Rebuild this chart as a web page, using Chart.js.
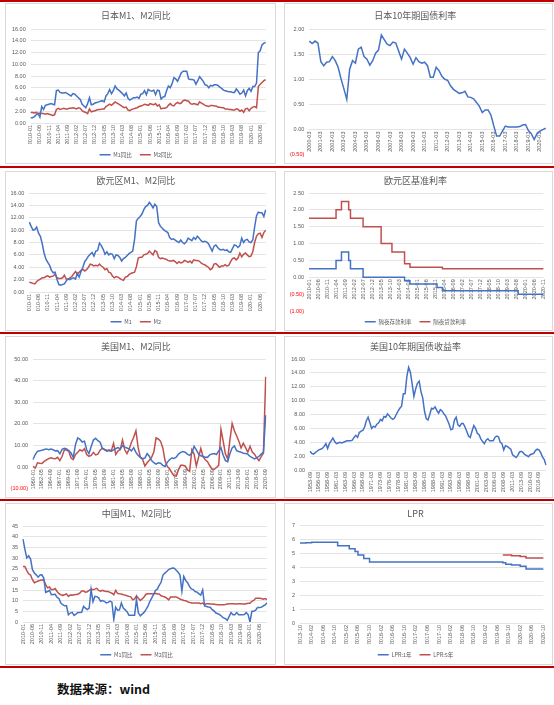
<!DOCTYPE html>
<html>
<head>
<meta charset="utf-8">
<script src="https://cdn.jsdelivr.net/npm/chart.js@4.4.0/dist/chart.umd.min.js"></script>
<style>
  body { margin: 0; width: 554px; height: 705px; background: #fff; position: relative; overflow: hidden; }
  .rule { position: absolute; left: 0; width: 554px; height: 2px; background: #c00000; }
  .panel { position: absolute; border: 1px solid #d9d9d9; background: #fff; }
  #source { position: absolute; left: 57px; top: 680px; line-height: 18px; font-size: 12.5px; font-weight: bold; color: #111;
            font-family: "Noto Sans CJK SC", sans-serif; }
</style>
</head>
<body>
<div class="rule" style="top:0"></div>
<div class="rule" style="top:166px"></div>
<div class="rule" style="top:332px"></div>
<div class="rule" style="top:499px"></div>
<div class="rule" style="top:666px"></div>

<div class="panel" style="left:5px;top:3px;width:269px;height:159px"><canvas id="jpMoney"></canvas></div>
<div class="panel" style="left:284px;top:3px;width:267px;height:159px"><canvas id="jpBond"></canvas></div>
<div class="panel" style="left:5px;top:171px;width:269px;height:158px"><canvas id="euMoney"></canvas></div>
<div class="panel" style="left:284px;top:171px;width:267px;height:158px"><canvas id="euRate"></canvas></div>
<div class="panel" style="left:5px;top:336px;width:269px;height:160px"><canvas id="usMoney"></canvas></div>
<div class="panel" style="left:284px;top:336px;width:267px;height:160px"><canvas id="usBond"></canvas></div>
<div class="panel" style="left:5px;top:503px;width:269px;height:160px"><canvas id="cnMoney"></canvas></div>
<div class="panel" style="left:284px;top:503px;width:267px;height:160px"><canvas id="lpr"></canvas></div>

<div id="source">数据来源：wind</div>

<script>
// month categories, e.g. monthSeq('2010-01', 129, 1)
function monthSeq(start, count, step) {
    let [y, m] = start.split('-').map(Number);
    const out = [];
    for (let i = 0; i < count; i++) {
        out.push(y + '-' + String(m).padStart(2, '0'));
        m += step;
        while (m > 12) { m -= 12; y++; }
    }
    return out;
}

// ---- Japan M1 / M2 yoy, monthly 2010-01 .. 2020-09
const jpMonths = monthSeq('2010-01', 129, 1);
const jpM1 = [
    0.9, 0.9, 1.1, 1.4, 1.6, 1.0, 2.8, 2.3, 3.0, 3.1,
    3.2, 3.3, 3.2, 3.1, 5.5, 5.6, 5.2, 5.1, 5.1, 5.2,
    5.0, 4.8, 4.6, 5.0, 4.9, 4.6, 4.3, 4.0, 3.2, 2.9,
    2.6, 3.3, 4.3, 3.1, 3.2, 3.4, 3.5, 3.6, 3.7, 3.8,
    3.6, 4.6, 5.0, 5.7, 5.0, 5.5, 6.3, 5.8, 5.6, 5.3,
    5.0, 4.6, 5.1, 4.2, 3.9, 4.1, 4.3, 4.3, 4.4, 4.2,
    4.9, 5.0, 5.5, 4.8, 5.7, 5.5, 5.4, 5.6, 4.8, 5.6,
    5.5, 4.1, 4.4, 4.5, 5.5, 6.3, 6.0, 6.7, 7.7, 7.5,
    7.1, 7.8, 8.5, 8.8, 8.8, 8.8, 7.5, 7.4, 7.4, 7.3,
    6.6, 7.2, 7.9, 7.5, 7.1, 6.5, 6.4, 6.0, 6.4, 6.3,
    6.5, 6.5, 6.4, 6.1, 5.9, 5.6, 5.5, 5.4, 5.3, 5.3,
    5.2, 5.2, 5.8, 5.4, 4.9, 5.1, 5.6, 4.6, 5.5, 5.9,
    5.4, 6.2, 6.2, 6.8, 12.0, 12.3, 13.3, 13.6, 13.7
];
const jpM2 = [
    1.8, 1.8, 1.7, 1.8, 1.6, 1.7, 1.6, 1.6, 1.5, 1.6,
    1.5, 1.4, 1.3, 1.4, 2.3, 2.5, 2.3, 2.4, 2.5, 2.4,
    2.4, 2.5, 2.5, 2.6, 2.5, 2.4, 2.6, 2.5, 2.1, 1.9,
    1.8, 1.6, 2.4, 1.9, 2.0, 2.1, 2.2, 2.3, 2.3, 2.4,
    2.4, 2.8, 3.0, 3.2, 3.0, 3.3, 3.6, 3.4, 3.2, 3.0,
    2.8, 2.6, 2.7, 2.2, 2.1, 2.3, 2.4, 2.5, 2.6, 2.8,
    2.9, 3.0, 3.2, 3.1, 3.0, 3.3, 3.2, 3.1, 3.3, 2.9,
    3.1, 2.4, 2.5, 2.5, 2.6, 3.0, 3.3, 3.0, 2.9, 3.3,
    3.5, 3.3, 3.4, 3.8, 3.9, 3.8, 3.7, 3.3, 3.2, 3.3,
    3.2, 3.1, 3.6, 3.4, 3.2, 3.0, 2.9, 2.8, 3.0, 3.0,
    2.9, 2.9, 2.7, 2.7, 2.6, 2.6, 2.4, 2.4, 2.3, 2.3,
    2.2, 2.2, 2.4, 2.3, 2.0, 2.2, 1.8, 2.4, 2.5, 2.1,
    2.5, 2.7, 2.8, 2.6, 6.2, 6.6, 6.9, 7.2, 7.4
];

// ---- Japan 10y JGB yield, quarterly 2000-03 .. 2020-09
const jpBondQuarters = monthSeq('2000-03', 83, 3);
const jpBond = [
    1.76, 1.71, 1.76, 1.72, 1.35, 1.27, 1.34, 1.35, 1.45, 1.37,
    1.24, 1.01, 0.81, 0.60, 1.20, 1.37, 1.32, 1.60, 1.64, 1.45,
    1.40, 1.28, 1.37, 1.52, 1.58, 1.88, 1.79, 1.70, 1.67, 1.74,
    1.72, 1.56, 1.40, 1.60, 1.52, 1.43, 1.30, 1.43, 1.35, 1.32,
    1.34, 1.27, 1.04, 1.04, 1.24, 1.17, 1.06, 1.00, 0.98, 0.87,
    0.80, 0.76, 0.72, 0.73, 0.76, 0.65, 0.64, 0.61, 0.54, 0.46,
    0.34, 0.39, 0.39, 0.29, 0.07, -0.13, -0.13, -0.03, 0.07, 0.05,
    0.05, 0.05, 0.05, 0.06, 0.09, 0.10, -0.02, -0.08, -0.20, -0.08,
    -0.03, 0.00, 0.03
];

// ---- Euro area M1 / M2 yoy, monthly 2010-01 .. 2020-09
const euMonths = monthSeq('2010-01', 129, 1);
const euM1 = [
    11.3, 10.6, 10.0, 10.1, 10.5, 9.5, 9.0, 7.8, 6.3, 5.3,
    4.8, 4.3, 3.5, 3.1, 3.2, 2.0, 1.2, 1.1, 1.2, 1.3,
    1.8, 2.1, 2.0, 2.2, 2.3, 2.1, 3.0, 2.4, 3.3, 4.0,
    4.9, 5.3, 5.8, 6.1, 6.4, 5.8, 6.6, 6.7, 7.9, 7.5,
    6.9, 6.1, 6.5, 6.0, 6.2, 6.1, 5.4, 6.0, 5.9, 5.6,
    5.0, 5.4, 5.6, 5.9, 6.2, 6.4, 6.6, 8.5, 11.5, 11.9,
    12.2, 12.6, 13.3, 13.8, 14.0, 14.5, 14.1, 13.6, 14.2, 13.8,
    11.2, 10.6, 10.3, 10.0, 9.8, 9.6, 8.8, 8.5, 8.6, 8.4,
    8.2, 8.0, 8.4, 8.0, 7.8, 8.1, 8.7, 8.5, 8.3, 8.8,
    8.5, 9.0, 8.7, 8.3, 8.1, 8.2, 8.1, 7.8, 7.2, 6.6,
    7.4, 7.6, 7.2, 6.9, 6.8, 6.9, 6.7, 6.8, 6.5, 6.4,
    7.0, 7.6, 7.5, 7.2, 7.5, 8.7, 8.0, 8.4, 8.5, 8.1,
    8.0, 8.4, 10.5, 12.3, 12.9, 12.8, 12.8, 12.2, 13.3
];
const euM2 = [
    1.6, 1.5, 1.4, 1.3, 1.7, 1.9, 2.1, 2.3, 2.3, 2.5,
    2.6, 2.4, 2.5, 2.6, 2.9, 2.3, 2.2, 2.2, 2.3, 2.7,
    2.1, 2.1, 2.3, 2.5, 2.9, 3.3, 2.9, 3.2, 3.5, 3.7,
    3.4, 3.6, 4.0, 4.5, 4.4, 4.2, 4.3, 4.2, 4.5, 4.2,
    4.0, 3.6, 3.8, 3.2, 3.1, 2.6, 2.3, 2.5, 2.4, 2.2,
    2.0, 1.9, 2.4, 2.5, 2.8, 3.0, 3.1, 3.2, 4.1, 5.5,
    5.6, 5.6, 6.0, 6.1, 6.2, 6.6, 6.3, 6.0, 6.7, 6.5,
    5.6, 5.4, 5.5, 5.4, 5.3, 5.1, 5.0, 5.0, 5.1, 4.9,
    4.6, 4.9, 4.7, 4.8, 5.1, 5.0, 4.8, 5.0, 4.7, 5.2,
    5.1, 5.1, 5.0, 4.7, 4.5, 4.4, 4.2, 4.0, 3.6, 3.8,
    4.5, 4.6, 4.3, 4.0, 4.2, 4.2, 4.4, 4.2, 4.3, 4.9,
    5.4, 5.5, 5.2, 5.5, 6.3, 5.7, 6.1, 6.3, 6.0, 5.7,
    5.8, 6.5, 8.0, 9.0, 9.4, 9.5, 8.8, 9.6, 10.0
];

// ---- ECB overnight deposit / lending rates, monthly 2010-01 .. 2020-11
const euRateMonths = monthSeq('2010-01', 131, 1);
const euDeposit = [
    0.25, 0.25, 0.25, 0.25, 0.25, 0.25, 0.25, 0.25, 0.25, 0.25,
    0.25, 0.25, 0.25, 0.25, 0.25, 0.5, 0.5, 0.5, 0.75, 0.75,
    0.75, 0.75, 0.5, 0.25, 0.25, 0.25, 0.25, 0.25, 0.25, 0.25,
    0, 0, 0, 0, 0, 0, 0, 0, 0, 0,
    0, 0, 0, 0, 0, 0, 0, 0, 0, 0,
    0, 0, 0, -0.1, -0.1, -0.1, -0.2, -0.2, -0.2, -0.2,
    -0.2, -0.2, -0.2, -0.2, -0.2, -0.2, -0.2, -0.2, -0.2, -0.2,
    -0.2, -0.3, -0.3, -0.3, -0.4, -0.4, -0.4, -0.4, -0.4, -0.4,
    -0.4, -0.4, -0.4, -0.4, -0.4, -0.4, -0.4, -0.4, -0.4, -0.4,
    -0.4, -0.4, -0.4, -0.4, -0.4, -0.4, -0.4, -0.4, -0.4, -0.4,
    -0.4, -0.4, -0.4, -0.4, -0.4, -0.4, -0.4, -0.4, -0.4, -0.4,
    -0.4, -0.4, -0.4, -0.4, -0.4, -0.4, -0.5, -0.5, -0.5, -0.5,
    -0.5, -0.5, -0.5, -0.5, -0.5, -0.5, -0.5, -0.5, -0.5, -0.5,
    -0.5
];
const euLending = [
    1.75, 1.75, 1.75, 1.75, 1.75, 1.75, 1.75, 1.75, 1.75, 1.75,
    1.75, 1.75, 1.75, 1.75, 1.75, 2.0, 2.0, 2.0, 2.25, 2.25,
    2.25, 2.25, 2.0, 1.75, 1.75, 1.75, 1.75, 1.75, 1.75, 1.75,
    1.5, 1.5, 1.5, 1.5, 1.5, 1.5, 1.5, 1.5, 1.5, 1.5,
    1.0, 1.0, 1.0, 1.0, 1.0, 1.0, 0.75, 0.75, 0.75, 0.75,
    0.75, 0.75, 0.75, 0.4, 0.4, 0.4, 0.3, 0.3, 0.3, 0.3,
    0.3, 0.3, 0.3, 0.3, 0.3, 0.3, 0.3, 0.3, 0.3, 0.3,
    0.3, 0.3, 0.3, 0.3, 0.25, 0.25, 0.25, 0.25, 0.25, 0.25,
    0.25, 0.25, 0.25, 0.25, 0.25, 0.25, 0.25, 0.25, 0.25, 0.25,
    0.25, 0.25, 0.25, 0.25, 0.25, 0.25, 0.25, 0.25, 0.25, 0.25,
    0.25, 0.25, 0.25, 0.25, 0.25, 0.25, 0.25, 0.25, 0.25, 0.25,
    0.25, 0.25, 0.25, 0.25, 0.25, 0.25, 0.25, 0.25, 0.25, 0.25,
    0.25, 0.25, 0.25, 0.25, 0.25, 0.25, 0.25, 0.25, 0.25, 0.25,
    0.25
];

// ---- US M1 / M2 yoy, every 7 months 1960-01 .. 2020-09
const usMonths = monthSeq('1960-01', 105, 7);
const usM1 = [
    3.5, 5.8, 7.3, 7.6, 7.8, 8.1, 8.4, 8.0, 8.3, 8.0,
    7.5, 7.6, 6.1, 8.2, 8.7, 8.4, 7.6, 6.5, 4.5, 10.5,
    13.5, 12.8, 11.6, 12.0, 8.0, 6.2, 9.5, 12.5, 13.3, 12.2,
    11.5, 8.6, 8.0, 7.8, 7.6, 7.3, 8.0, 8.6, 9.0, 8.4,
    9.9, 9.2, 8.8, 8.4, 7.5, 9.0, 6.8, 5.4, 4.5, 3.9,
    4.2, 6.2, 5.0, 3.0, 2.0, 1.4, 2.0, 1.8, 0.8, 0.3,
    2.2, 3.4, 4.2, 4.0, 4.6, 6.0, 6.8, 7.2, 6.9, 6.0,
    5.4, 6.5, 9.6, 8.0, 6.0, 5.2, 4.9, 4.6, 4.5, 5.7,
    6.1, 6.3, 5.8, 7.5, 9.0, 5.5, 3.0, 2.5, 6.2, 8.9,
    9.8, 7.6, 7.2, 6.9, 6.4, 6.3, 6.0, 4.9, 4.4, 3.8,
    4.3, 5.0, 6.0, 7.0, 24.0
];
const usM2 = [
    0.3, -0.5, 2.0, 1.8, 1.7, 2.6, 3.3, 3.9, 4.3, 4.0,
    3.9, 4.5, 3.0, 4.9, 8.0, 7.9, 7.3, 4.2, 3.5, 5.8,
    6.9, 8.0, 7.4, 8.5, 5.8, 5.0, 5.4, 6.8, 5.6, 6.0,
    7.8, 8.8, 8.2, 7.3, 8.0, 7.6, 11.0, 5.8, 7.5, 8.0,
    12.5, 8.0, 6.2, 8.4, 11.5, 13.8, 16.8, 9.0, 4.5, 3.5,
    0.5, 2.0, 3.2, 4.5, 7.0, 13.5, 13.0, 11.9, 9.0, 3.0,
    0.3, -0.8, -2.5, -4.0, -4.2, -1.3, 0.8, 0.8, 0.5, -1.2,
    -2.0, 8.0, 6.0, 0.5, 4.5, 8.6, 4.8, 3.4, 2.5, 0.6,
    -0.9, -1.0, -0.2, 0.8, 17.5, 12.0, 6.0, 3.8, 12.5, 20.2,
    16.8, 14.5, 12.0, 8.8, 11.0, 9.0, 6.9, 9.6, 7.0, 6.0,
    4.3, 3.0, 4.8, 6.5, 41.8
];

// ---- US 10y Treasury yield, half-yearly 1953-09 .. 2020-09
const usBondMonths = monthSeq('1953-09', 135, 6);
const usBond = [
    2.7, 2.4, 2.3, 2.5, 2.7, 2.9, 3.0, 3.1, 3.4, 3.8,
    3.1, 3.8, 4.2, 4.6, 4.1, 3.8, 3.9, 4.0, 3.9, 4.0,
    4.1, 4.2, 4.2, 4.2, 4.3, 4.7, 5.0, 4.7, 5.4, 5.6,
    5.7, 6.2, 7.1, 7.6, 6.8, 6.0, 6.3, 6.2, 6.6, 6.8,
    7.3, 7.1, 7.7, 7.6, 8.1, 7.8, 7.5, 7.3, 7.5, 8.0,
    8.5, 8.9, 9.2, 11.0, 11.0, 13.5, 14.8, 14.1, 12.4, 10.6,
    11.7, 12.5, 12.8, 11.3, 10.4, 8.5, 7.4, 7.2, 8.0, 8.9,
    8.8, 9.1, 8.6, 8.2, 8.7, 8.5, 8.1, 7.8, 7.2, 6.6,
    5.8, 5.9, 7.2, 7.6, 6.5, 6.3, 6.7, 6.7, 6.2, 5.6,
    4.9, 4.7, 5.6, 6.4, 6.0, 5.3, 5.1, 4.5, 4.1, 3.8,
    4.3, 4.5, 4.2, 4.2, 4.2, 4.7, 4.9, 4.8, 4.0, 3.8,
    2.9, 3.5, 3.4, 3.2, 3.0, 2.2, 2.0, 1.8, 2.1, 2.6,
    2.7, 2.5, 2.2, 2.1, 1.9, 2.2, 2.3, 2.4, 2.8, 3.0,
    2.9, 2.5, 1.9, 1.5, 0.7
];

// ---- China M1 / M2 yoy, monthly 2010-01 .. 2020-10
const cnMonths = monthSeq('2010-01', 130, 1);
const cnM1 = [
    38.8, 34.0, 30.0, 31.0, 29.5, 24.5, 23.0, 22.1, 21.0, 22.0,
    22.1, 20.5, 13.9, 14.3, 14.8, 12.8, 12.9, 13.0, 11.6, 11.0,
    8.9, 8.1, 7.6, 7.6, 3.4, 4.2, 4.5, 3.1, 3.7, 4.5,
    4.5, 4.6, 7.3, 6.5, 5.8, 6.5, 15.3, 9.5, 12.0, 11.9,
    11.3, 9.7, 10.1, 9.7, 8.9, 9.2, 9.8, 9.3, 1.2, 6.9,
    5.5, 5.7, 8.9, 6.5, 5.7, 4.8, 3.2, 3.2, 3.2, 3.2,
    10.6, 4.3, 2.9, 3.7, 4.5, 5.8, 7.3, 9.5, 11.2, 12.8,
    14.8, 15.4, 17.2, 18.6, 22.0, 22.9, 23.7, 24.6, 25.0, 25.3,
    25.2, 24.3, 23.3, 22.0, 14.5, 21.4, 19.5, 18.4, 16.7, 15.5,
    15.2, 14.3, 14.0, 13.2, 12.6, 15.0, 7.5, 7.3, 7.0, 6.9,
    5.8, 5.2, 4.2, 3.9, 3.4, 2.7, 1.9, 1.6, 0.8, 2.6,
    4.4, 3.4, 3.4, 4.4, 3.4, 3.4, 3.4, 3.5, 4.4, 3.5,
    0.0, 5.0, 5.0, 5.5, 6.8, 6.8, 6.9, 7.5, 8.0, 9.0
];
const cnM2 = [
    26.0, 26.0, 24.1, 22.6, 22.0, 19.8, 18.4, 18.8, 19.2, 19.5,
    19.8, 19.6, 17.5, 16.0, 16.4, 15.1, 15.2, 15.7, 14.3, 13.3,
    12.8, 12.5, 12.8, 13.2, 12.0, 12.7, 12.6, 12.8, 12.9, 13.0,
    13.5, 14.5, 14.5, 14.0, 14.2, 14.8, 15.4, 15.1, 15.4, 15.8,
    14.8, 14.4, 14.8, 14.5, 14.3, 14.3, 13.9, 13.5, 12.8, 14.8,
    13.4, 13.2, 13.1, 12.8, 12.6, 12.3, 12.0, 11.8, 10.4, 10.8,
    12.3, 11.1, 10.1, 10.8, 11.7, 13.0, 13.2, 13.2, 13.2, 13.1,
    13.5, 13.1, 13.1, 12.3, 12.0, 11.7, 11.2, 10.4, 11.7, 11.7,
    11.7, 11.7, 11.3, 10.8, 10.4, 10.1, 10.0, 9.5, 9.2, 8.9,
    8.9, 8.9, 8.9, 8.9, 8.6, 8.9, 8.1, 8.6, 8.6, 8.4,
    8.4, 8.3, 8.2, 8.1, 8.1, 8.1, 8.1, 8.2, 8.4, 8.5,
    8.6, 8.5, 8.4, 8.4, 8.5, 8.6, 8.4, 8.4, 8.6, 8.8,
    8.8, 9.7, 10.1, 11.1, 11.1, 11.1, 11.0, 10.7, 11.0, 10.5
];

// ---- LPR 1y / 5y, monthly 2013-10 .. 2020-10
const lprMonths = monthSeq('2013-10', 85, 1);
const lpr1y = [
    5.71, 5.72, 5.73, 5.74, 5.77, 5.77, 5.77, 5.77, 5.77, 5.77,
    5.77, 5.77, 5.77, 5.51, 5.51, 5.51, 5.51, 5.30, 5.30, 5.10,
    4.85, 4.85, 4.60, 4.60, 4.35, 4.35, 4.35, 4.35, 4.35, 4.35,
    4.35, 4.35, 4.35, 4.35, 4.35, 4.35, 4.35, 4.35, 4.35, 4.35,
    4.35, 4.35, 4.35, 4.35, 4.35, 4.35, 4.35, 4.35, 4.35, 4.35,
    4.35, 4.35, 4.35, 4.35, 4.35, 4.35, 4.35, 4.35, 4.35, 4.35,
    4.35, 4.35, 4.35, 4.35, 4.35, 4.35, 4.35, 4.35, 4.35, 4.35,
    4.31, 4.20, 4.20, 4.15, 4.15, 4.15, 4.05, 4.05, 3.85, 3.85,
    3.85, 3.85, 3.85, 3.85, 3.85
];
const lpr5y = [
    null, null, null, null, null, null, null, null, null, null,
    null, null, null, null, null, null, null, null, null, null,
    null, null, null, null, null, null, null, null, null, null,
    null, null, null, null, null, null, null, null, null, null,
    null, null, null, null, null, null, null, null, null, null,
    null, null, null, null, null, null, null, null, null, null,
    null, null, null, null, null, null, null, null, null, null,
    4.85, 4.85, 4.85, 4.80, 4.80, 4.80, 4.75, 4.75, 4.65, 4.65,
    4.65, 4.65, 4.65, 4.65, 4.65
];

const BLUE = '#4472c4';
const RED = '#c0504d';
const GRAY = '#595959';
const CJK = '"Noto Sans CJK SC", sans-serif';
const NUM = '"Liberation Sans", Arial, sans-serif';

function money2(v) {
    return v < 0 ? '(' + Math.abs(v).toFixed(2) + ')' : v.toFixed(2);
}

// area = [left, top, right, bottom] of the plot inside the panel
function drawPanel(id, o) {
    const legendPad = 8;
    const legendH = o.legendY ? o.h - o.legendY + legendPad + 3 : 0;
    const xHeight = o.h - legendH - o.area[3];

    new Chart(document.getElementById(id), {
        type: 'line',
        data: {
            labels: o.labels,
            datasets: o.series.map(s => ({
                label: s.name,
                data: s.data,
                borderColor: s.color,
                backgroundColor: s.color,
                borderWidth: 1.5,
                pointRadius: 0,
                stepped: s.stepped || false
            }))
        },
        options: {
            responsive: true,
            maintainAspectRatio: false,
            animation: false,
            layout: { padding: { left: 0, right: o.w - o.area[2], top: 0, bottom: 0 } },
            plugins: {
                title: {
                    display: true,
                    text: o.title,
                    color: GRAY,
                    font: { family: CJK, size: 9, weight: 'normal' },
                    padding: { top: o.titleY - 5.4, bottom: o.area[1] - o.titleY - 5.4 }
                },
                legend: {
                    display: !!o.legendY,
                    position: 'bottom',
                    maxHeight: legendH,
                    labels: {
                        usePointStyle: true,
                        pointStyle: 'line',
                        pointStyleWidth: 11,
                        color: GRAY,
                        padding: legendPad,
                        font: { family: CJK, size: 5.5 }
                    }
                },
                tooltip: { enabled: false }
            },
            scales: {
                x: {
                    position: o.zeroAxis ? { y: 0 } : 'bottom',
                    grid: { display: false, drawTicks: false, tickLength: 0 },
                    border: { display: false },
                    ticks: {
                        autoSkip: false,
                        minRotation: 90,
                        maxRotation: 90,
                        padding: 2,
                        color: GRAY,
                        font: { family: NUM, size: 5.5 },
                        callback: (v, i) => (i % o.every === 0 ? o.labels[i] : null)
                    },
                    afterFit: s => { s.height = xHeight; }
                },
                y: {
                    min: o.yMin,
                    max: o.yMax,
                    grid: {
                        color: c => (c.tick && c.tick.value < 0 ? 'rgba(0,0,0,0)' : '#e4e4e4'),
                        drawTicks: false,
                        tickLength: 0
                    },
                    border: { display: false },
                    ticks: {
                        stepSize: o.yStep,
                        padding: 5,
                        font: { family: NUM, size: 5.5 },
                        color: c => (c.tick.value < 0 ? '#ff0000' : GRAY),
                        callback: o.yFormat || (v => v)
                    },
                    afterFit: s => { s.width = o.area[0]; }
                }
            }
        }
    });
}

drawPanel('jpMoney', {
    w: 269, h: 159, area: [24.7, 25, 259.7, 119], titleY: 12, legendY: 151,
    title: '日本M1、M2同比', labels: jpMonths, every: 5,
    yMin: 0, yMax: 16, yStep: 2, yFormat: money2,
    series: [
        { name: 'M1同比', data: jpM1, color: BLUE },
        { name: 'M2同比', data: jpM2, color: RED }
    ]
});

drawPanel('jpBond', {
    w: 267, h: 159, area: [24.3, 25, 260.7, 153.7], titleY: 12, zeroAxis: true,
    title: '日本10年期国债利率', labels: jpBondQuarters, every: 4,
    yMin: -0.5, yMax: 2, yStep: 0.5, yFormat: money2,
    series: [{ name: '日本10年期国债利率', data: jpBond, color: BLUE }]
});

drawPanel('euMoney', {
    w: 269, h: 158, area: [23.3, 21, 259.7, 120], titleY: 9, legendY: 150,
    title: '欧元区M1、M2同比', labels: euMonths, every: 5,
    yMin: 0, yMax: 16, yStep: 2, yFormat: money2,
    series: [
        { name: 'M1', data: euM1, color: BLUE },
        { name: 'M2', data: euM2, color: RED }
    ]
});

drawPanel('euRate', {
    w: 267, h: 158, area: [24, 21, 261, 139], titleY: 9, legendY: 150, zeroAxis: true,
    title: '欧元区基准利率', labels: euRateMonths, every: 5,
    yMin: -1, yMax: 2.5, yStep: 0.5, yFormat: money2,
    series: [
        { name: '隔夜存款利率', data: euDeposit, color: BLUE, stepped: true },
        { name: '隔夜贷款利率', data: euLending, color: RED, stepped: true }
    ]
});

drawPanel('usMoney', {
    w: 269, h: 160, area: [27, 22, 259.7, 153], titleY: 10, zeroAxis: true,
    title: '美国M1、M2同比', labels: usMonths, every: 4,
    yMin: -10, yMax: 50, yStep: 10, yFormat: money2,
    series: [
        { name: 'M1', data: usM1, color: BLUE },
        { name: 'M2', data: usM2, color: RED }
    ]
});

drawPanel('usBond', {
    w: 267, h: 160, area: [25, 22, 261, 133], titleY: 10,
    title: '美国10年期国债收益率', labels: usBondMonths, every: 5,
    yMin: 0, yMax: 16, yStep: 2, yFormat: money2,
    series: [{ name: '美国10年期国债收益率', data: usBond, color: BLUE }]
});

drawPanel('cnMoney', {
    w: 269, h: 160, area: [17, 22, 261, 118], titleY: 10, legendY: 151,
    title: '中国M1、M2同比', labels: cnMonths, every: 5,
    yMin: 0, yMax: 45, yStep: 5,
    series: [
        { name: 'M1同比', data: cnM1, color: BLUE },
        { name: 'M2同比', data: cnM2, color: RED }
    ]
});

drawPanel('lpr', {
    w: 267, h: 160, area: [15, 21, 261, 119], titleY: 10, legendY: 151,
    title: 'LPR', labels: lprMonths, every: 4,
    yMin: 0, yMax: 7, yStep: 1,
    series: [
        { name: 'LPR:1年', data: lpr1y, color: BLUE, stepped: true },
        { name: 'LPR:5年', data: lpr5y, color: RED, stepped: true }
    ]
});
</script>
</body>
</html>
